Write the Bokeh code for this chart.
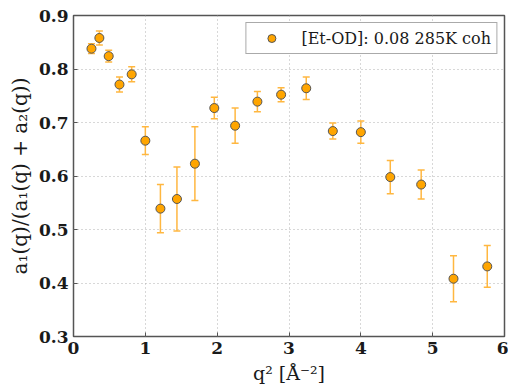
from bokeh.plotting import figure
from bokeh.models import (ColumnDataSource, Whisker, TeeHead, Legend,
                          LegendItem, Range1d, FixedTicker)
from bokeh.embed import file_html
from bokeh.resources import INLINE

q2 = [0.25, 0.36, 0.49, 0.64, 0.81, 1.00, 1.21, 1.44, 1.69, 1.96,
      2.25, 2.56, 2.89, 3.24, 3.61, 4.00, 4.41, 4.84, 5.29, 5.76]
ratio = [0.838, 0.858, 0.824, 0.771, 0.790, 0.666, 0.539, 0.557, 0.623, 0.727,
         0.694, 0.739, 0.752, 0.764, 0.684, 0.682, 0.598, 0.584, 0.408, 0.431]
err = [0.009, 0.013, 0.011, 0.014, 0.014, 0.026, 0.045, 0.060, 0.069, 0.020,
       0.033, 0.019, 0.013, 0.021, 0.015, 0.021, 0.031, 0.027, 0.043, 0.039]
label = "[Et-OD]: 0.08 285K coh"
x_ticks = [0, 1, 2, 3, 4, 5, 6]
y_ticks = [0.3, 0.4, 0.5, 0.6, 0.7, 0.8, 0.9]

src = ColumnDataSource(dict(
    x=q2, y=ratio,
    lo=[v - e for v, e in zip(ratio, err)],
    hi=[v + e for v, e in zip(ratio, err)],
))

p = figure(width=508, height=389, output_backend="svg", toolbar_location=None,
           x_range=Range1d(0, 6), y_range=Range1d(0.3, 0.9),
           min_border_left=73, min_border_right=4, min_border_top=15,
           min_border_bottom=53)

p.outline_line_color = "#555555"
p.outline_line_width = 1.5
p.background_fill_color = "white"
p.border_fill_color = "white"

tick_font = "DejaVu Serif"
for ax in (p.xaxis[0], p.yaxis[0]):
    ax.axis_line_color = None
    ax.major_tick_in = 4
    ax.major_tick_out = 0
    ax.minor_tick_line_color = None
    ax.major_tick_line_color = "#555555"
    ax.major_label_text_font = tick_font
    ax.major_label_text_font_style = "bold"
    ax.major_label_text_font_size = "17px"
    ax.major_label_text_color = "#1a1a1a"
    ax.axis_label_text_font = tick_font
    ax.axis_label_text_font_style = "normal"
    ax.axis_label_text_color = "#1a1a1a"

p.xaxis.axis_label_text_font_size = "19px"
p.yaxis.axis_label_text_font_size = "20px"
p.xaxis.ticker = FixedTicker(ticks=x_ticks)
p.yaxis.ticker = FixedTicker(ticks=y_ticks)
p.xaxis.major_label_standoff = 5
p.yaxis.major_label_standoff = 5
p.xaxis.axis_label = "q² [Å⁻²]"
p.yaxis.axis_label = "a₁(q)/(a₁(q) + a₂(q))"
p.xaxis.axis_label_standoff = 5
p.yaxis.axis_label_standoff = 4

p.xgrid.ticker = FixedTicker(ticks=x_ticks)
p.ygrid.ticker = FixedTicker(ticks=y_ticks)
for g in (p.xgrid[0], p.ygrid[0]):
    g.grid_line_color = "#b0b0b0"
    g.grid_line_dash = "1 3"
    g.grid_line_width = 1

err_color = "#FFB740"
p.segment(x0="x", y0="lo", x1="x", y1="hi", source=src,
          line_color=err_color, line_width=1.5)
wh = Whisker(base="x", lower="lo", upper="hi", source=src,
             line_alpha=0.0,
             upper_head=TeeHead(size=7, line_color=err_color, line_width=1.5),
             lower_head=TeeHead(size=7, line_color=err_color, line_width=1.5))
p.add_layout(wh)
sc = p.scatter(x="x", y="y", source=src, size=9, fill_color="#FFA500",
               line_color="#555555", line_width=1)

legend = Legend(items=[LegendItem(label=label, renderers=[sc])],
                location="top_right", margin=7, padding=5, spacing=0,
                label_text_font="DejaVu Serif", label_text_font_size="16px",
                label_text_color="#1a1a1a", glyph_width=40, glyph_height=20,
                label_standoff=10, border_line_color="#555555",
                border_line_width=1.5, background_fill_alpha=1.0)
p.add_layout(legend)

open("out.html", "w").write(file_html(p, INLINE))
